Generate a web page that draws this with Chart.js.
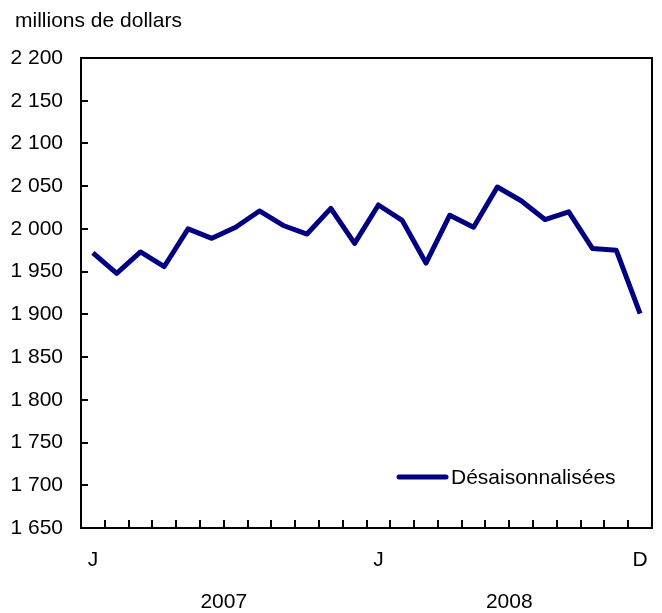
<!DOCTYPE html>
<html><head><meta charset="utf-8">
<script src="https://cdn.jsdelivr.net/npm/chart.js@4/dist/chart.umd.min.js"></script>
<style>html,body{margin:0;padding:0;background:#fff}#wrap{width:662px;height:613px}</style>
</head><body><div id="wrap"><canvas id="c" width="662" height="613"></canvas></div>
<script>
const categories = ['janv. 2007','févr. 2007','mars 2007','avr. 2007','mai 2007','juin 2007','juil. 2007','août 2007','sept. 2007','oct. 2007','nov. 2007','déc. 2007',
  'janv. 2008','févr. 2008','mars 2008','avr. 2008','mai 2008','juin 2008','juil. 2008','août 2008','sept. 2008','oct. 2008','nov. 2008','déc. 2008'];
const seriesValues = [1972,1948,1973,1956,2000,1989,2002,2021,2004,1994,2024,1983,2028,2010,1960,2016,2002,2049,2033,2011,2020,1977,1975,1901];
const monthTickLabels = ['J','','','','','','','','','','','','J','','','','','','','','','','','D'];
const yearLabels = ['2007','2008'];
const seriesLabel = 'Désaisonnalisées';
const unitLabel = 'millions de dollars';
const yMin = 1650, yMax = 2200, yStep = 50;

const FONT = '"Liberation Sans", Arial, Helvetica, sans-serif';
const FS = 21;
const LINE_COLOR = '#000080';

function fmt(v){ return String(v).replace(/\B(?=(\d{3})+(?!\d))/g, ' '); }

const framePlugin = {
  id: 'frame',
  afterDraw(chart) {
    const ctx = chart.ctx, a = chart.chartArea;
    const ys = chart.scales.y, xs = chart.scales.x;
    ctx.save();
    ctx.strokeStyle = '#000';
    ctx.lineWidth = 2;
    ctx.strokeRect(a.left, a.top, a.right - a.left, a.bottom - a.top);
    ctx.beginPath();
    for (let v = yMin + yStep; v < yMax; v += yStep) {
      const py = Math.round(ys.getPixelForValue(v));
      ctx.moveTo(a.left, py); ctx.lineTo(a.left + 7, py);
    }
    for (let i = 1; i < categories.length; i++) {
      const px = Math.round((xs.getPixelForValue(i - 1) + xs.getPixelForValue(i)) / 2);
      ctx.moveTo(px, a.bottom); ctx.lineTo(px, a.bottom - 8);
    }
    ctx.stroke();
    ctx.fillStyle = '#000';
    ctx.font = FS + 'px ' + FONT;
    ctx.textAlign = 'left';
    ctx.textBaseline = 'alphabetic';
    ctx.fillText(unitLabel, 15, 27);
    const ds = chart.data.datasets[0];
    const ly = 477;
    ctx.strokeStyle = ds.borderColor;
    ctx.lineWidth = 5;
    ctx.lineCap = 'round';
    ctx.beginPath();
    ctx.moveTo(399, ly); ctx.lineTo(446, ly);
    ctx.stroke();
    ctx.textBaseline = 'middle';
    ctx.fillText(ds.label, 451, ly + 1);
    ctx.restore();
  }
};

function zeroSidePad(s) { s.paddingLeft = 0; s.paddingRight = 0; }

new Chart(document.getElementById('c'), {
  type: 'line',
  data: {
    labels: categories,
    datasets: [{
      label: seriesLabel,
      data: seriesValues,
      borderColor: LINE_COLOR,
      backgroundColor: LINE_COLOR,
      borderWidth: 5,
      pointRadius: 0,
      tension: 0,
      borderJoinStyle: 'round',
      xAxisID: 'x',
      yAxisID: 'y'
    }]
  },
  options: {
    responsive: false,
    animation: false,
    devicePixelRatio: 1,
    layout: { padding: { top: 58, right: 10, left: 0, bottom: 0 } },
    plugins: { legend: { display: false }, tooltip: { enabled: false }, title: { display: false } },
    scales: {
      x: {
        type: 'category', position: 'bottom', offset: true,
        grid: { display: false, drawTicks: false }, border: { display: false },
        ticks: { autoSkip: false, maxRotation: 0, padding: 20, color: '#000', font: { family: FONT, size: FS },
          callback: (v, i) => monthTickLabels[i] },
        afterFit(s) { s.height = 45; zeroSidePad(s); }
      },
      x2: {
        type: 'category', labels: yearLabels, position: 'bottom', offset: true,
        grid: { display: false, drawTicks: false }, border: { display: false },
        ticks: { autoSkip: false, maxRotation: 0, padding: 17, color: '#000', font: { family: FONT, size: FS } },
        afterFit(s) { s.height = 40; zeroSidePad(s); }
      },
      y: {
        min: yMin, max: yMax,
        grid: { display: false, drawTicks: false }, border: { display: false },
        ticks: { stepSize: yStep, padding: 18, color: '#000', font: { family: FONT, size: FS }, callback: v => fmt(v) },
        afterFit(s) { s.width = 81; s.paddingTop = 0; s.paddingBottom = 0; }
      }
    }
  },
  plugins: [framePlugin]
});
</script>
</body></html>
